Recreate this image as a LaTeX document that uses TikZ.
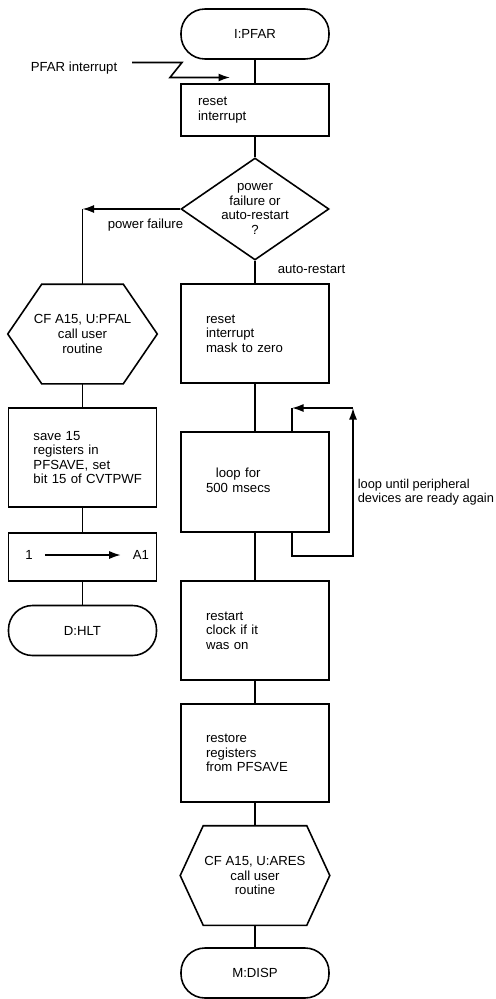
\documentclass[tikz,border=0pt]{standalone}
\usepackage{fontspec}
\setmainfont{Liberation Sans}
\usetikzlibrary{arrows.meta,positioning,shapes.geometric}

% outline of a six-sided box round a node
\newcommand{\hexframe}[2]{%
	\draw ([xshift=#2]#1.north west) -- ([xshift=-#2]#1.north east) -- (#1.east)
	-- ([xshift=-#2]#1.south east) -- ([xshift=#2]#1.south west) -- (#1.west) -- cycle;}

\begin{document}
\begin{tikzpicture}[
	>={Latex[length=2.3mm,width=1.6mm]},
	line width=0.9pt,
	every node/.style={font=\fontsize{7.5}{8.3}\selectfont},
	term/.style={draw, rounded corners=0.48cm, minimum width=2.96cm, minimum height=1cm},
	proc/.style={draw, minimum width=2.96cm, text width=1.96cm, inner xsep=0.5cm, align=left},
	hexbox/.style={minimum width=2.96cm, minimum height=1.96cm, inner sep=0pt, align=center},
	decision/.style={draw, diamond, aspect=1.45, minimum width=2.96cm, minimum height=2.04cm, inner sep=0pt, align=center},
	note/.style={inner sep=0pt, align=left, font=\fontsize{7.3}{8.3}\selectfont}
	]
	\useasboundingbox (0,0) rectangle (9.9,-19.98);
	
	%--- main column ---
	\node[term] (start) at (5.1,-0.68) {I:PFAR};
	\node[proc, minimum height=1.04cm, text width=2.28cm, inner xsep=0.34cm] (rstint) at (5.1,-2.2) {reset\\interrupt};
	\node[decision] (dec) at (5.1,-4.18) {power\\failure or\\auto-restart\\?};
	\node[proc, minimum height=1.98cm] (mask) at (5.1,-6.67) {reset\\interrupt\\mask to zero};
	\node[proc, minimum height=2cm] (loop) at (5.1,-9.64) {\begin{tabular}{@{}c@{}}loop for\\500 msecs\end{tabular}};
	\node[proc, minimum height=1.98cm] (restart) at (5.1,-12.61) {restart\\clock if it\\was on};
	\node[proc, minimum height=1.96cm] (restore) at (5.1,-15.06) {restore\\registers\\from PFSAVE};
	\node[hexbox] (ares) at (5.1,-17.51) {CF A15, U:ARES\\call user\\routine};
	\node[term] (disp) at (5.1,-19.46) {M:DISP};
	
	%--- power failure column ---
	\node[hexbox] (pfal) at (1.65,-6.68) {CF A15, U:PFAL\\call user\\routine};
	\node[proc, minimum height=1.98cm] (save) at (1.65,-9.15) {save 15\\registers in\\PFSAVE, set\\\mbox{bit 15 of CVTPWF}};
	\node[proc, minimum height=0.96cm] (setone) at (1.65,-11.14) {};
	\node[inner xsep=6.5pt] (one) at (0.58,-11.1) {1};
	\node[inner xsep=6.5pt] (aone) at (2.82,-11.1) {A1};
	\node[term] (hlt) at (1.65,-12.61) {D:HLT};
	
	\hexframe{pfal}{0.68cm}
	\hexframe{ares}{0.46cm}
	
	%--- labels ---
	\node (irqlbl) at (1.48,-1.36) {PFAR interrupt};
	\node (pflbl) at (2.91,-4.5) {power failure};
	\node (arlbl) at (6.23,-5.38) {auto-restart};
	\node[note, anchor=west] (loopnote) at (7.14,-9.84) {loop until peripheral\\devices are ready again};
	
	%--- flow lines ---
	\draw (start) -- (rstint);
	\draw (rstint) -- (dec);
	\draw (dec) -- (mask);
	\draw (mask) -- (loop);
	\draw (loop) -- (restart);
	\draw (restart) -- (restore);
	\draw (restore) -- (ares);
	\draw (ares) -- (disp);
	
	\draw (pfal) -- (save);
	\draw (save) -- (setone);
	\draw (setone) -- (hlt);
	\draw[->] (one) -- (aone);
	
	\coordinate (pfturn) at (1.65,-4.18);
	\draw[->] (dec.west) -- (pfturn);
	\draw (pfturn) -- (pfal);
	
	%--- interrupt entry ---
	\coordinate (irqA) at (2.64,-1.25);
	\coordinate (irqB) at (3.64,-1.25);
	\coordinate (irqC) at (3.4,-1.55);
	\coordinate (irqD) at (4.6,-1.55);
	\draw[->] (irqA) -- (irqB) -- (irqC) -- (irqD);
	
	%--- wait loop ---
	\coordinate (lpdown) at (5.84,-11.12);
	\coordinate (lpright) at (7.06,-11.12);
	\coordinate (lpup) at (7.06,-8.16);
	\coordinate (lpleft) at (5.84,-8.16);
	\draw[->] (loop.south -| lpdown) -- (lpdown) -- (lpright) -- (lpup);
	\draw[->] (lpup) -- (lpleft);
	\draw (lpleft) -- (loop.north -| lpleft);
	
\end{tikzpicture}
\end{document}
